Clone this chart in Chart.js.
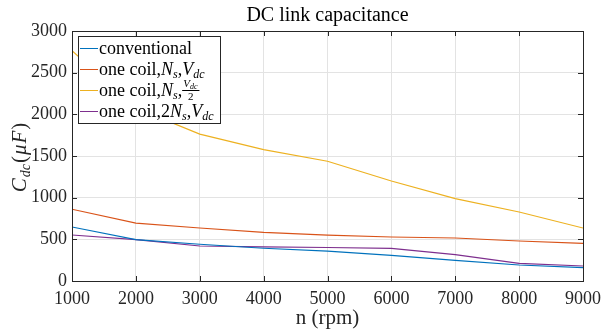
<!DOCTYPE html>
<html>
<head>
<meta charset="utf-8">
<script src="https://cdn.jsdelivr.net/npm/chart.js@4"></script>
<style>
  html, body { margin: 0; padding: 0; background: #fff; }
  #wrap { width: 608px; height: 333px; }
</style>
</head>
<body>
<div id="wrap"><canvas id="cdc"></canvas></div>
<script>
// speed (rpm)
const rpm = [1000, 2000, 3000, 4000, 5000, 6000, 7000, 8000, 9000];
// DC link capacitance (uF) per configuration
const conventional = [648, 496, 441, 393, 358, 308, 248, 192, 160];
const oneCoilNsVdc = [861, 695, 636, 584, 550, 528, 516, 480, 452];
const oneCoilNsHalfVdc = [2765, 2075, 1762, 1577, 1437, 1200, 989, 828, 636];
const oneCoil2NsVdc = [552, 496, 420, 410, 402, 392, 316, 212, 180];

const seriesNames = ["conventional", "one coil,Ns,Vdc", "one coil,Ns,Vdc/2", "one coil,2Ns,Vdc"];
const colors = ["#0072BD", "#D95319", "#EDB120", "#7E2F8E"];
const xTicks = [1000, 2000, 3000, 4000, 5000, 6000, 7000, 8000, 9000];
const yTicks = [0, 500, 1000, 1500, 2000, 2500, 3000];

// pieces of the legend text: i = italic, s = subscript, f = fraction
const legendParts = [
  [{ t: "conventional" }],
  [{ t: "one coil," }, { t: "N", i: 1 }, { t: "s", i: 1, s: 1 }, { t: "," }, { t: "V", i: 1 }, { t: "dc", i: 1, s: 1 }],
  [{ t: "one coil," }, { t: "N", i: 1 }, { t: "s", i: 1, s: 1 }, { t: "," }, { f: 1 }],
  [{ t: "one coil,2" }, { t: "N", i: 1 }, { t: "s", i: 1, s: 1 }, { t: "," }, { t: "V", i: 1 }, { t: "dc", i: 1, s: 1 }],
];

const SERIF = '"Liberation Serif", "DejaVu Serif", serif';
const INK = "#262626";

function pts(ys) {
  return rpm.map((x, k) => ({ x: x, y: ys[k] }));
}

const allSeries = [conventional, oneCoilNsVdc, oneCoilNsHalfVdc, oneCoil2NsVdc];

const decor = {
  id: "decor",
  afterDraw(chart) {
    const ctx = chart.ctx;
    const a = chart.chartArea;
    ctx.save();
    // box around plot
    ctx.strokeStyle = INK;
    ctx.lineWidth = 1;
    ctx.strokeRect(Math.round(a.left) + 0.5, Math.round(a.top) + 0.5,
      Math.round(a.right - a.left), Math.round(a.bottom - a.top));
    // inward ticks
    const xs = chart.scales.x, ys = chart.scales.y;
    ctx.beginPath();
    xTicks.forEach(v => {
      const px = Math.round(xs.getPixelForValue(v)) + 0.5;
      ctx.moveTo(px, a.bottom); ctx.lineTo(px, a.bottom - 5);
      ctx.moveTo(px, a.top); ctx.lineTo(px, a.top + 5);
    });
    yTicks.forEach(v => {
      const py = Math.round(ys.getPixelForValue(v)) + 0.5;
      ctx.moveTo(a.left, py); ctx.lineTo(a.left + 5, py);
      ctx.moveTo(a.right, py); ctx.lineTo(a.right - 5, py);
    });
    ctx.stroke();

    // title
    ctx.fillStyle = "#000";
    ctx.font = "20px " + SERIF;
    ctx.textAlign = "center";
    ctx.textBaseline = "middle";
    ctx.fillText("DC link capacitance", (a.left + a.right) / 2, 16);

    // x title
    ctx.fillStyle = INK;
    ctx.font = "21px " + SERIF;
    ctx.fillText("n (rpm)", (a.left + a.right) / 2, 318);

    // y title  C_dc(μF)
    ctx.save();
    ctx.translate(19, 157);
    ctx.rotate(-Math.PI / 2);
    ctx.textAlign = "left";
    ctx.textBaseline = "alphabetic";
    const yParts = [
      { t: "C", f: "italic 21px " }, { t: "dc", f: "italic 14px ", dy: 4 },
      { t: "(", f: "21px " }, { t: "μ", f: "italic 21px " }, { t: "F", f: "italic 21px " }, { t: ")", f: "21px " },
    ];
    let w = 0;
    yParts.forEach(p => { ctx.font = p.f + SERIF; w += ctx.measureText(p.t).width + 1; });
    let cx = -w / 2;
    yParts.forEach(p => {
      ctx.font = p.f + SERIF;
      ctx.fillText(p.t, cx, 7 + (p.dy || 0));
      cx += ctx.measureText(p.t).width + 1;
    });
    ctx.restore();

    // legend
    const lx = 78, ly = 36, lw = 142, lh = 87;
    ctx.fillStyle = "#fff";
    ctx.fillRect(lx, ly, lw, lh);
    ctx.strokeStyle = INK;
    ctx.lineWidth = 1;
    ctx.strokeRect(lx + 0.5, ly + 0.5, lw, lh);
    const rowY = [48, 69, 90, 111];
    legendParts.forEach((parts, k) => {
      const y = rowY[k];
      ctx.strokeStyle = colors[k];
      ctx.beginPath();
      ctx.moveTo(lx + 2, y + 0.5); ctx.lineTo(lx + 20, y + 0.5);
      ctx.stroke();
      let x = lx + 21;
      ctx.fillStyle = "#000";
      ctx.textAlign = "left";
      ctx.textBaseline = "alphabetic";
      parts.forEach(p => {
        if (p.f) {
          // V_dc over 2
          ctx.font = "italic 11px " + SERIF;
          ctx.fillText("V", x + 1, y - 3);
          const vw = ctx.measureText("V").width;
          ctx.font = "italic 8px " + SERIF;
          ctx.fillText("dc", x + 1 + vw, y - 1);
          const fw = vw + ctx.measureText("dc").width + 2;
          ctx.fillRect(x, y, fw + 1, 1);
          ctx.font = "11px " + SERIF;
          ctx.textAlign = "center";
          ctx.fillText("2", x + fw / 2 + 0.5, y + 10);
          ctx.textAlign = "left";
          x += fw + 2;
          return;
        }
        if (p.s) {
          ctx.font = "italic 12px " + SERIF;
          ctx.fillText(p.t, x, y + 9);
        } else {
          ctx.font = (p.i ? "italic " : "") + "18px " + SERIF;
          ctx.fillText(p.t, x, y + 6);
        }
        x += ctx.measureText(p.t).width;
      });
    });
    ctx.restore();
  }
};

new Chart(document.getElementById("cdc"), {
  type: "line",
  data: {
    datasets: allSeries.map((ys, k) => ({
      label: seriesNames[k],
      data: pts(ys),
      borderColor: colors[k],
      backgroundColor: colors[k],
      borderWidth: 1.2,
      pointRadius: 0,
      tension: 0,
    })),
  },
  options: {
    responsive: true,
    maintainAspectRatio: false,
    animation: false,
    layout: { padding: { top: 31, right: 18, left: 0, bottom: 0 } },
    plugins: { legend: { display: false }, tooltip: { enabled: false } },
    scales: {
      x: {
        type: "linear",
        min: 1000,
        max: 9000,
        afterFit: s => { s.height = 52; },
        afterBuildTicks: s => { s.ticks = xTicks.map(v => ({ value: v })); },
        grid: { color: "#e3e3e3", drawTicks: false },
        border: { display: false },
        ticks: { color: INK, font: { family: SERIF, size: 18 }, padding: 7, maxRotation: 0,
          callback: v => String(v) },
      },
      y: {
        min: 0,
        max: 3000,
        afterFit: s => { s.width = 72; },
        afterBuildTicks: s => { s.ticks = yTicks.map(v => ({ value: v })); },
        grid: { color: "#e3e3e3", drawTicks: false },
        border: { display: false },
        ticks: { color: INK, font: { family: SERIF, size: 18 }, padding: 5,
          callback: v => String(v) },
      },
    },
  },
  plugins: [decor],
});
</script>
</body>
</html>
